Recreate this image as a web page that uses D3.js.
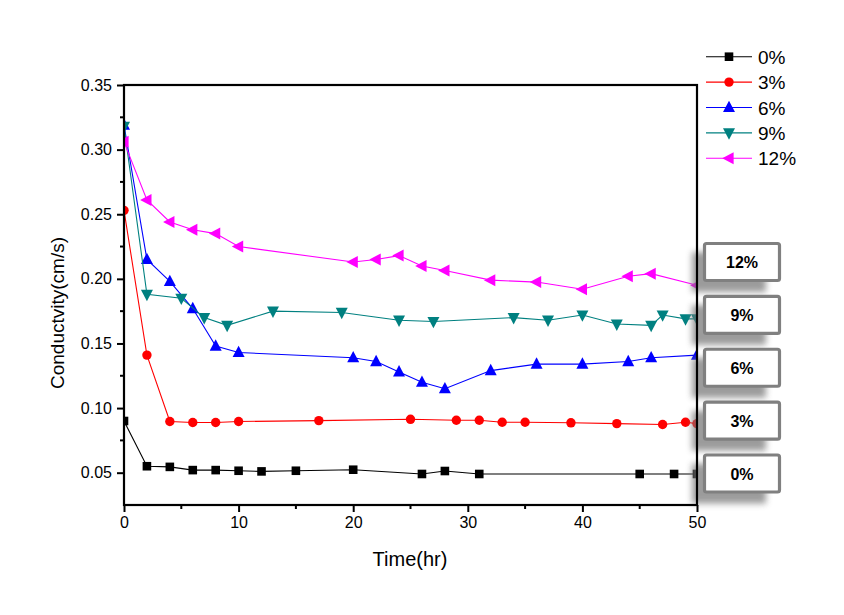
<!DOCTYPE html>
<html>
<head>
<meta charset="utf-8">
<script src="https://cdn.jsdelivr.net/npm/d3@7/dist/d3.min.js"></script>
<style>
  html, body { margin: 0; padding: 0; background: #ffffff; }
  svg { display: block; }
  text { font-family: "Liberation Sans", Arial, sans-serif; }
</style>
</head>
<body>
<svg id="chart" width="844" height="615"></svg>
<script>
// ---------- data ----------
const seriesNames = ["0%", "3%", "6%", "9%", "12%"];
const seriesColors = ["#000000", "#ff0000", "#0000ff", "#008080", "#ff00ff"];
const seriesShapes = ["square", "circle", "triangleUp", "triangleDown", "triangleLeft"];

const t0 = [0, 2, 4, 6, 8, 10, 12, 15, 20, 26, 28, 31, 45, 48, 50];
const v0 = [0.090, 0.055, 0.0545, 0.052, 0.052, 0.0515, 0.051, 0.0515, 0.0523, 0.049, 0.0513, 0.049, 0.049, 0.049, 0.049];

const t3 = [0, 2, 4, 6, 8, 10, 17, 25, 29, 31, 33, 35, 39, 43, 47, 49, 50];
const v3 = [0.253, 0.141, 0.0896, 0.0888, 0.0888, 0.0896, 0.0903, 0.0913, 0.0906, 0.0906, 0.089, 0.089, 0.0886, 0.088, 0.0873, 0.089, 0.088];

const t6 = [0, 2, 4, 6, 8, 10, 20, 22, 24, 26, 28, 32, 36, 40, 44, 46, 50];
const v6 = [0.319, 0.215, 0.198, 0.177, 0.148, 0.143, 0.139, 0.136, 0.128, 0.120, 0.115, 0.129, 0.134, 0.134, 0.136, 0.139, 0.141];

const t9 = [0, 2, 5, 7, 9, 13, 19, 24, 27, 34, 37, 40, 43, 46, 47, 49, 50];
const v9 = [0.318, 0.188, 0.185, 0.170, 0.164, 0.175, 0.174, 0.168, 0.167, 0.170, 0.168, 0.172, 0.165, 0.164, 0.172, 0.169, 0.169];

const t12 = [0, 2, 4, 6, 8, 10, 20, 22, 24, 26, 28, 32, 36, 40, 44, 46, 50];
const v12 = [0.306, 0.261, 0.244, 0.238, 0.235, 0.225, 0.213, 0.215, 0.218, 0.210, 0.2065, 0.199, 0.1975, 0.192, 0.202, 0.204, 0.195];

const seriesTimes = [t0, t3, t6, t9, t12];
const seriesValues = [v0, v3, v6, v9, v12];

const xTicks = [0, 10, 20, 30, 40, 50];
const xMinorTicks = [5, 15, 25, 35, 45];
const yTicks = [0.05, 0.10, 0.15, 0.20, 0.25, 0.30, 0.35];
const yMinorTicks = [0.075, 0.125, 0.175, 0.225, 0.275, 0.325];
const boxLabels = ["12%", "9%", "6%", "3%", "0%"];

const xTitle = "Time(hr)";
const yTitle = "Conductvity(cm/s)";

// ---------- layout ----------
const svg = d3.select("#chart");
const plot = { left: 124, right: 697, top: 85, bottom: 505 };

const x = d3.scaleLinear().domain([0, 50]).range([plot.left, plot.right]);
const y = d3.scaleLinear().domain([0.025, 0.35]).range([plot.bottom, plot.top]);

// marker generator
function markerPath(shape) {
  switch (shape) {
    case "square": return "M-4.3,-4.3H4.3V4.3H-4.3Z";
    case "circle": return "M-4.7,0A4.7,4.7 0 1,0 4.7,0A4.7,4.7 0 1,0 -4.7,0Z";
    case "triangleUp": return "M0,-6.8L6,4.6L-6,4.6Z";
    case "triangleDown": return "M0,6.8L6,-4.6L-6,-4.6Z";
    case "triangleLeft": return "M-6.8,0L4.6,-6L4.6,6Z";
  }
}

const defs = svg.append("defs");
defs.append("clipPath").attr("id", "plotClip")
  .append("rect")
  .attr("x", plot.left).attr("y", plot.top)
  .attr("width", plot.right - plot.left).attr("height", plot.bottom - plot.top);
const blur = defs.append("filter").attr("id", "shadowBlur")
  .attr("x", "-30%").attr("y", "-30%").attr("width", "160%").attr("height", "160%");
blur.append("feGaussianBlur").attr("stdDeviation", 3);

// ---------- series ----------
const gData = svg.append("g").attr("clip-path", "url(#plotClip)");
const line = d3.line().x(d => x(d[0])).y(d => y(d[1]));

seriesNames.forEach((name, i) => {
  const pts = seriesTimes[i].map((t, k) => [t, seriesValues[i][k]]);
  const g = gData.append("g");
  g.append("path").datum(pts)
    .attr("d", line)
    .attr("fill", "none")
    .attr("stroke", seriesColors[i])
    .attr("stroke-width", 1.1);
  g.selectAll("path.mk").data(pts).enter().append("path")
    .attr("class", "mk")
    .attr("d", markerPath(seriesShapes[i]))
    .attr("transform", d => `translate(${x(d[0])},${y(d[1])})`)
    .attr("fill", seriesColors[i]);
});

// ---------- label boxes (shadows first) ----------
const boxX = 703, boxW = 78, boxH = 40;
const boxY = d3.scaleLinear().domain([0, 4]).range([242, 453.5]);

const gShadow = svg.append("g");
boxLabels.forEach((lab, i) => {
  gShadow.append("rect")
    .attr("x", boxX - 11).attr("y", boxY(i) + 10)
    .attr("width", boxW - 4).attr("height", boxH)
    .attr("fill", "#7a7a7a")
    .attr("opacity", 0.75)
    .attr("filter", "url(#shadowBlur)");
});

// ---------- axes ----------
const gAxes = svg.append("g");

const xAxis = d3.axisBottom(x).tickValues(xTicks).tickFormat(d3.format("d"))
  .tickSizeInner(7).tickSizeOuter(0).tickPadding(5);
const gx = gAxes.append("g").attr("transform", `translate(0,${plot.bottom})`).call(xAxis);
gx.selectAll(".tick line").attr("stroke-width", 2);
gx.append("g").selectAll("line").data(xMinorTicks).enter().append("line")
  .attr("x1", d => x(d)).attr("x2", d => x(d))
  .attr("y1", 0).attr("y2", 4)
  .attr("stroke", "#000").attr("stroke-width", 2);

const yAxis = d3.axisLeft(y).tickValues(yTicks).tickFormat(d3.format(".2f"))
  .tickSizeInner(7).tickSizeOuter(0).tickPadding(5);
const gy = gAxes.append("g").attr("transform", `translate(${plot.left},0)`).call(yAxis);
gy.selectAll(".tick line").attr("stroke-width", 2);
gy.append("g").selectAll("line").data(yMinorTicks).enter().append("line")
  .attr("x1", 0).attr("x2", -4)
  .attr("y1", d => y(d)).attr("y2", d => y(d))
  .attr("stroke", "#000").attr("stroke-width", 2);

[gx, gy].forEach(g => {
  g.select(".domain").remove();
  g.selectAll(".tick text")
    .attr("font-family", "'Liberation Sans', Arial, sans-serif")
    .attr("font-size", 16)
    .attr("fill", "#000");
});

// frame
gAxes.append("rect")
  .attr("x", plot.left).attr("y", plot.top)
  .attr("width", plot.right - plot.left).attr("height", plot.bottom - plot.top)
  .attr("fill", "none").attr("stroke", "#000").attr("stroke-width", 2.2);

// axis titles
svg.append("text")
  .attr("x", (plot.left + plot.right) / 2 - 0.5).attr("y", 566)
  .attr("text-anchor", "middle")
  .attr("font-size", 20)
  .text(xTitle);
svg.append("text")
  .attr("transform", `translate(64,${(plot.top + plot.bottom) / 2 + 18}) rotate(-90)`)
  .attr("text-anchor", "middle")
  .attr("font-size", 19)
  .text(yTitle);

// ---------- boxes ----------
const gBoxes = svg.append("g");
boxLabels.forEach((lab, i) => {
  gBoxes.append("rect")
    .attr("x", boxX + 1.5).attr("y", boxY(i) + 1.5)
    .attr("width", boxW - 3).attr("height", boxH - 3)
    .attr("rx", 2)
    .attr("fill", "#ffffff")
    .attr("stroke", "#808080").attr("stroke-width", 3.2);
  gBoxes.append("text")
    .attr("x", boxX + boxW / 2).attr("y", boxY(i) + boxH / 2 + 6)
    .attr("text-anchor", "middle")
    .attr("font-size", 16).attr("font-weight", "bold")
    .text(lab);
});

// ---------- legend ----------
const gLeg = svg.append("g");
const legY = d3.scaleLinear().domain([0, 4]).range([56.7, 158.3]);
seriesNames.forEach((name, i) => {
  const yy = legY(i);
  gLeg.append("line")
    .attr("x1", 706).attr("x2", 752).attr("y1", yy).attr("y2", yy)
    .attr("stroke", seriesColors[i]).attr("stroke-width", 1.1);
  gLeg.append("path")
    .attr("d", markerPath(seriesShapes[i]))
    .attr("transform", `translate(729,${yy})`)
    .attr("fill", seriesColors[i]);
  gLeg.append("text")
    .attr("x", 758).attr("y", yy + 7)
    .attr("font-size", 19)
    .text(name);
});
</script>
</body>
</html>
